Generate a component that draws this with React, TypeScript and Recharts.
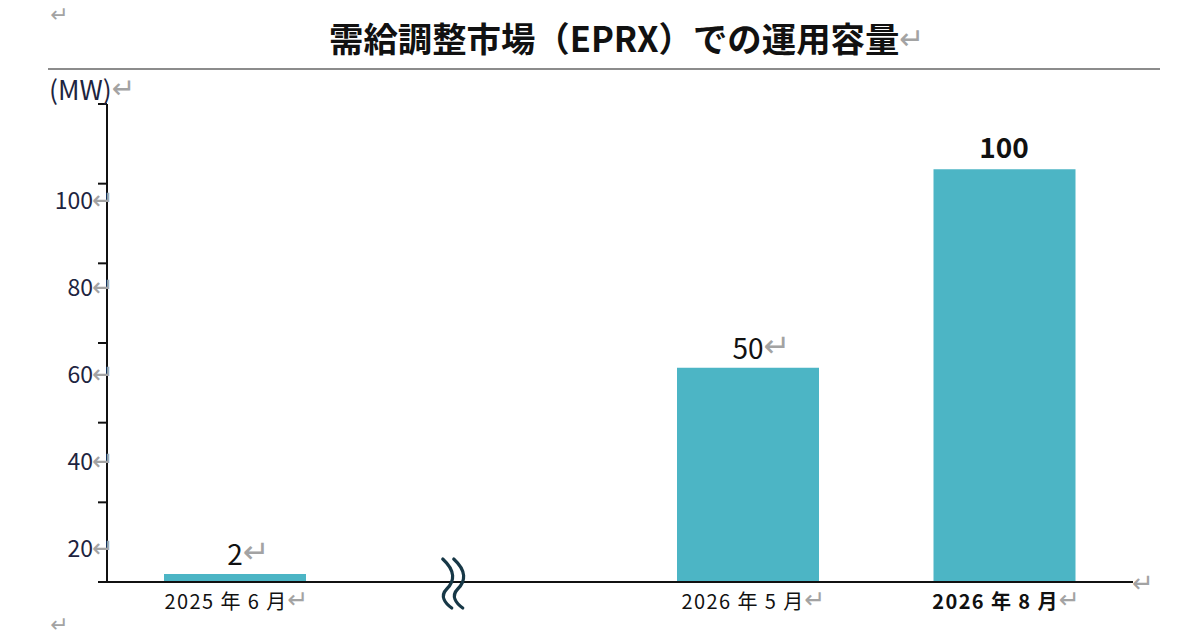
import { Bar, BarChart, LabelList, XAxis, YAxis } from "recharts";

const categories = ["2025 年 6 月", "gap", "2026 年 5 月", "2026 年 8 月"];
const capacityText = ["2", "", "50", "100"];
// bar heights as they sit on the drawn axis
const barLevel = [2, null, 53.8, 103.6];
const boldCategory = [false, false, false, true];
const yTicks = [0, 20, 40, 60, 80, 100, 120];
const yTickText = ["", "20", "40", "60", "80", "100", ""];

const data = categories.map((cat, i) => ({
  cat,
  level: barLevel[i],
  text: capacityText[i],
}));

const FONT = '"Noto Sans CJK JP", "Noto Sans", sans-serif';
const RET_FONT = '"DejaVu Sans", sans-serif';
const RET = "#a3a3a3";
const TEAL = "#4cb5c5";
const INK = "#1d2440";

const YTick = ({ x, y, payload }: any) => {
  const label = yTickText[yTicks.indexOf(payload.value)];
  if (!label) return null;
  // in the source the labels drift below their tick marks
  const shift = 51.5 - 0.357 * payload.value;
  return (
    <g>
      <text
        x={x - 3}
        y={y + shift}
        textAnchor="end"
        dominantBaseline="central"
        fontFamily={FONT}
        fontSize={23}
        fill={INK}
      >
        {label}
      </text>
      <text
        x={x - 4}
        y={y + shift + 1}
        dominantBaseline="central"
        fontFamily={RET_FONT}
        fontSize={26}
        fill={RET}
      >
        ↵
      </text>
    </g>
  );
};

const XTick = ({ x, y, payload, index }: any) => {
  if (payload.value === "gap") {
    const wave = (dx: number) =>
      `M ${dx - 3} -24 C ${dx + 10} -12, ${dx + 9} -2, ${dx + 1} 6 C ${dx - 6} 13, ${dx - 1} 20, ${dx + 6} 25`;
    return (
      <g transform={`translate(${x - 46}, ${y + 1})`}>
        <path d={wave(0)} stroke="#173847" strokeWidth={3.2} fill="none" strokeLinecap="round" />
        <path d={wave(11)} stroke="#173847" strokeWidth={3.2} fill="none" strokeLinecap="round" />
      </g>
    );
  }
  const bold = boldCategory[index];
  return (
    <text
      x={x + (index === 2 ? 6 : 2)}
      y={y + 27}
      textAnchor="middle"
      fontFamily={FONT}
      fontSize={20}
      letterSpacing={1.4}
      fontWeight={bold ? 700 : 400}
      fill="#111"
    >
      {payload.value}
      <tspan fill={RET} fontFamily={RET_FONT} fontSize={25} fontWeight={400} dy={-1}>
        ↵
      </tspan>
    </text>
  );
};

const BarText = ({ x, y, width, value }: any) => {
  if (!value) return null;
  const bold = boldCategory[capacityText.indexOf(value)];
  const size = 28;
  const numW = value.length * size * (bold ? 0.6 : 0.555);
  return (
    <text
      x={x + width / 2 - numW / 2}
      y={y - (bold ? 11 : 9)}
      fontFamily={FONT}
      fontSize={size}
      fontWeight={bold ? 700 : 400}
      fill="#111"
    >
      {value}
      {!bold && (
        <tspan fill={RET} fontFamily={RET_FONT} fontSize={32} dy={-2}>
          ↵
        </tspan>
      )}
    </text>
  );
};

export default function App() {
  return (
    <div style={{ position: "absolute", left: 0, top: 0, width: 1200, height: 640, background: "#fff" }}>
      <BarChart
        width={1200}
        height={640}
        data={data}
        margin={{ top: 104, right: 67, bottom: 0, left: 0 }}
      >
        <XAxis
          dataKey="cat"
          height={58}
          axisLine={{ stroke: "#111", strokeWidth: 2 }}
          tickLine={false}
          tickSize={0}
          tickMargin={0}
          interval={0}
          tick={<XTick />}
        />
        <YAxis
          width={107}
          domain={[0, 120]}
          ticks={yTicks}
          interval={0}
          axisLine={{ stroke: "#111", strokeWidth: 2 }}
          tickLine={{ stroke: "#111", strokeWidth: 2 }}
          tickSize={9}
          tick={<YTick />}
        />
        <Bar dataKey="level" fill={TEAL} barSize={142} isAnimationActive={false}>
          <LabelList dataKey="text" content={<BarText />} />
        </Bar>
      </BarChart>
      <svg
        width={1200}
        height={640}
        style={{ position: "absolute", left: 0, top: 0, pointerEvents: "none" }}
      >
        <text x={50} y={22} fontFamily={RET_FONT} fontSize={22} fill={RET}>↵</text>
        <text x={329} y={52} fontFamily={FONT} fontSize={34.4} fontWeight={700} fill="#111">
          需給調整市場（EPRX）での運用容量
          <tspan fill={RET} fontFamily={RET_FONT} fontSize={30} fontWeight={400} dy={-3}>
            ↵
          </tspan>
        </text>
        <line x1={48} x2={1160} y1={69} y2={69} stroke="#8c8c8c" strokeWidth={2} />
        <text x={49} y={100} fontFamily={FONT} fontSize={26.5} fill={INK}>
          (MW)
          <tspan fill={RET} fontFamily={RET_FONT} fontSize={28} dy={-2}>
            ↵
          </tspan>
        </text>
        <text x={1132} y={592} fontFamily={RET_FONT} fontSize={26} fill={RET}>↵</text>
        <text x={50} y={632} fontFamily={RET_FONT} fontSize={22} fill={RET}>↵</text>
      </svg>
    </div>
  );
}
